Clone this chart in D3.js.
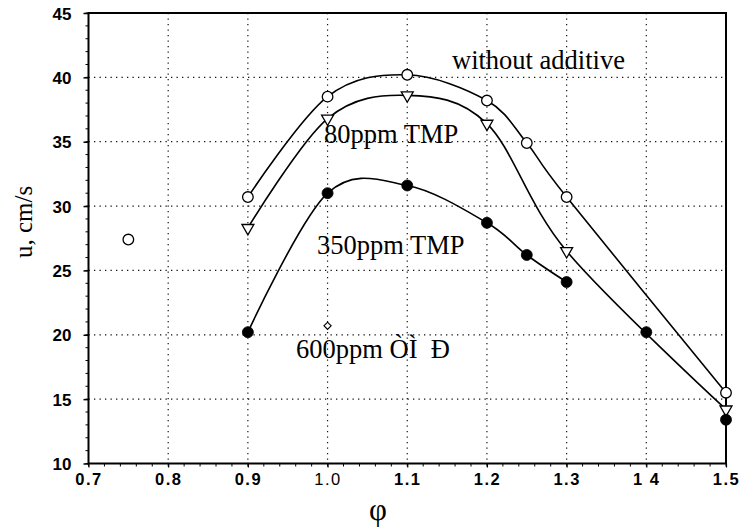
<!DOCTYPE html>
<html><head><meta charset="utf-8">
<script src="https://cdn.jsdelivr.net/npm/d3@7/dist/d3.min.js"></script>
<style>body{margin:0;background:#fff}svg{display:block}</style>
</head><body><svg id="c" width="739" height="529"></svg>
<script>
// ---- data ----
const phiNoAdd = [0.9, 1.0, 1.1, 1.2, 1.25, 1.3, 1.5];
const uNoAdd   = [30.7, 38.5, 40.2, 38.2, 34.9, 30.7, 15.5];
const phi80    = [0.9, 1.0, 1.1, 1.2, 1.3, 1.5];
const u80      = [28.3, 36.8, 38.6, 36.4, 26.5, 14.2];
const phi350   = [0.9, 1.0, 1.1, 1.2, 1.25, 1.3, 1.4, 1.5];
const u350     = [20.2, 31.0, 31.6, 28.7, 26.2, 24.1, 20.2, 13.4];
const phi350Curve = [0.9, 1.0, 1.1, 1.2, 1.25, 1.3];
const u350Curve   = [20.2, 31.0, 31.6, 28.7, 26.2, 24.1];
const phi600   = [1.0];
const u600     = [20.7];
const phiLone  = [0.75];
const uLone    = [27.4];
const xTicks   = [0.7, 0.8, 0.9, 1.0, 1.1, 1.2, 1.3, 1.4, 1.5];
const xTickLabels = ["0.7", "0.8", "0.9", "1.0", "1.1", "1.2", "1.3", "1 4", "1.5"];
const yTicks   = [10, 15, 20, 25, 30, 35, 40, 45];
const seriesLabels = ["without additive", "80ppm TMP", "350ppm TMP", "600ppm ÒÌ\u00a0\u00a0Ð"];
const xTitle = "φ";
const yTitle = "u, cm/s";

// ---- chart ----
const svg = d3.select("#c");
const L = 88.5, R = 726, T = 13, B = 463.5;
const x = d3.scaleLinear().domain([0.7, 1.5]).range([L, R]);
const y = d3.scaleLinear().domain([10, 45]).range([B, T]);

// grid
const grid = svg.append("g").attr("stroke", "#111").attr("stroke-width", 1.2)
  .attr("stroke-dasharray", "1.3,4.2");
grid.selectAll("line.h").data(yTicks.filter(v => v > 10 && v < 45)).enter().append("line")
  .attr("x1", L).attr("x2", R).attr("y1", d => y(d)).attr("y2", d => y(d));
grid.selectAll("line.v").data(xTicks.filter(v => v > 0.7 && v < 1.5)).enter().append("line")
  .attr("y1", T).attr("y2", B).attr("x1", d => x(d)).attr("x2", d => x(d));

// axes
const yAxis = d3.axisLeft(y).tickValues(yTicks).tickSize(5).tickFormat(d3.format("d"));
const gy = svg.append("g").attr("transform", `translate(${L},0)`).call(yAxis);
gy.select(".domain").remove();
gy.selectAll(".tick line").attr("stroke", "#000").attr("stroke-width", 1.5);
gy.selectAll(".tick text").attr("x", -17).attr("dy", "0.36em").attr("font-family", "Liberation Sans, Arial, sans-serif")
  .attr("font-weight", "bold").attr("font-size", 17).attr("fill", "#000");
const yMinor = d3.range(10, 45.01, 1);
svg.append("g").selectAll("line").data(yMinor).enter().append("line")
  .attr("x1", L - 3).attr("x2", L).attr("y1", d => y(d)).attr("y2", d => y(d))
  .attr("stroke", "#000").attr("stroke-width", 1);

const xAxis = d3.axisBottom(x).tickValues(xTicks).tickSize(4).tickFormat((d, i) => xTickLabels[i]);
const gx = svg.append("g").attr("transform", `translate(0,${B})`).call(xAxis);
gx.select(".domain").remove();
gx.selectAll(".tick line").attr("stroke", "#000").attr("stroke-width", 1.2);
gx.selectAll(".tick text").attr("y", 10).attr("font-family", "Liberation Sans, Arial, sans-serif")
  .attr("font-weight", (d, i) => xTickLabels[i] === "1.0" ? "normal" : "bold")
  .attr("font-size", 16.5).attr("fill", "#000").attr("letter-spacing", 1.5);
const xMinor = d3.range(0.7, 1.5001, 0.02);
svg.append("g").selectAll("line").data(xMinor).enter().append("line")
  .attr("x1", d => x(d)).attr("x2", d => x(d)).attr("y1", B).attr("y2", B + 3)
  .attr("stroke", "#000").attr("stroke-width", 1);

// frame
svg.append("rect").attr("x", L).attr("y", T).attr("width", R - L).attr("height", B - T)
  .attr("fill", "none").attr("stroke", "#000").attr("stroke-width", 2);

// curves
const line = d3.line().x(d => x(d[0])).y(d => y(d[1])).curve(d3.curveCardinal.tension(0));
const zip = (a, b) => a.map((v, i) => [v, b[i]]);
const curves = [zip(phiNoAdd, uNoAdd), zip(phi80, u80), zip(phi350Curve, u350Curve)];
svg.append("g").selectAll("path").data(curves).enter().append("path")
  .attr("d", line).attr("fill", "none").attr("stroke", "#000").attr("stroke-width", 1.6);

// markers
const mk = svg.append("g");
mk.selectAll("circle.o").data(zip(phiNoAdd, uNoAdd).concat(zip(phiLone, uLone))).enter().append("circle")
  .attr("cx", d => x(d[0])).attr("cy", d => y(d[1])).attr("r", 5.3)
  .attr("fill", "#fff").attr("stroke", "#000").attr("stroke-width", 1.3);
const tri = d3.symbol().type(d3.symbolTriangle).size(62);
mk.selectAll("path.t").data(zip(phi80, u80)).enter().append("path")
  .attr("d", tri).attr("transform", d => `translate(${x(d[0])},${y(d[1])}) rotate(180)`)
  .attr("fill", "#fff").attr("stroke", "#000").attr("stroke-width", 1.3);
mk.selectAll("circle.f").data(zip(phi350, u350)).enter().append("circle")
  .attr("cx", d => x(d[0])).attr("cy", d => y(d[1])).attr("r", 5.5)
  .attr("fill", "#000").attr("stroke", "#000").attr("stroke-width", 0.8);
const dia = d3.symbol().type(d3.symbolSquare).size(26);
mk.selectAll("path.d").data(zip(phi600, u600)).enter().append("path")
  .attr("d", dia).attr("transform", d => `translate(${x(d[0])},${y(d[1])}) rotate(45)`)
  .attr("fill", "#fff").attr("stroke", "#000").attr("stroke-width", 1.1);

// series labels
const labPos = [[452, 69], [324, 143], [317, 254], [296, 358]];
svg.append("g").selectAll("text").data(seriesLabels).enter().append("text")
  .attr("x", (d, i) => labPos[i][0]).attr("y", (d, i) => labPos[i][1])
  .attr("font-family", "Liberation Serif, Times New Roman, serif").attr("font-size", 26.5)
  .attr("fill", "#000").style("white-space", "pre").text(d => d);

// axis titles
svg.append("text").attr("x", 378).attr("y", 520).attr("text-anchor", "middle")
  .attr("font-family", "Liberation Serif, Times New Roman, serif").attr("font-size", 31).text(xTitle);
svg.append("text").attr("transform", "translate(32,222) rotate(-90)").attr("text-anchor", "middle")
  .attr("font-family", "Liberation Serif, Times New Roman, serif").attr("font-size", 25).text(yTitle);
</script></body></html>
